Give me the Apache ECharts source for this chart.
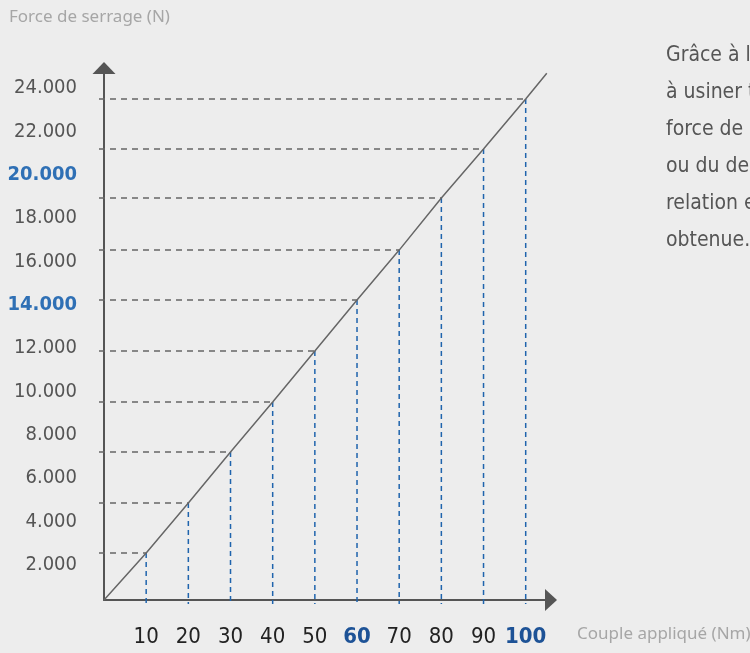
<!DOCTYPE html>
<html lang="fr">
<head>
    <meta charset="UTF-8">
    <title>Force de serrage</title>
    <script src="https://cdn.jsdelivr.net/npm/echarts@6/dist/echarts.min.js"></script>
    <style>
        html, body { margin: 0; padding: 0; background: #ededed; }
        #main { width: 750px; height: 653px; }
    </style>
</head>
<body>
    <div id="main"></div>
    <script>
        // couple (Nm) et force de serrage
        var torque = [10, 20, 30, 40, 50, 60, 70, 80, 90, 100];
        var force = [2170, 4470, 6830, 9130, 11490, 13840, 16140, 18540, 20800, 23110];
        var lineEnd = [105, 24300];
        var yMax = 24000, yStep = 2000;
        var blueY = [14000, 20000];
        var blueX = [60, 100];
        var textLines = [
            'Grâce à la forme des rondelles',
            'à usiner toutes les pièces, la',
            'force de serrage est contrôlée',
            'ou du desserrage. Une bonne',
            'relation entre couple et force',
            'obtenue.'
        ];

        var FONT = "'Liberation Sans Narrow', 'DejaVu Sans Condensed', 'Noto Sans', sans-serif";

        var diag = [[0, 0]];
        torque.forEach(function (t, i) { diag.push([t, force[i]]); });
        diag.push(lineEnd);

        var myChart = echarts.init(document.getElementById('main'));

        var option = {
            backgroundColor: '#ededed',
            animation: false,
            grid: [
                // grille des libellés de l'axe Y
                { left: 105, top: 88, width: 440, height: 520 },
                // grille du tracé
                { left: 104, top: 68, width: 447, height: 532 }
            ],
            xAxis: [
                { gridIndex: 0, type: 'value', show: false, min: 0, max: 100 },
                {
                    gridIndex: 1, type: 'value', min: 0, max: 106, interval: 10,
                    axisLine: {
                        show: true, onZero: false,
                        lineStyle: { color: '#555', width: 2 },
                        symbol: ['none', 'triangle'], symbolSize: [22, 12]
                    },
                    axisTick: { show: false },
                    splitLine: { show: false },
                    axisLabel: {
                        margin: 26,
                        fontFamily: FONT, fontSize: 22, color: '#222',
                        formatter: function (v) {
                            if (v === 0 || v % 10 !== 0) return '';
                            return blueX.indexOf(v) >= 0 ? '{b|' + v + '}' : '' + v;
                        },
                        rich: { b: { fontFamily: FONT, fontSize: 22, fontWeight: 'bold', color: '#1d5296' } }
                    }
                }
            ],
            yAxis: [
                {
                    gridIndex: 0, type: 'value', min: 0, max: yMax, interval: yStep,
                    axisLine: { show: false }, axisTick: { show: false }, splitLine: { show: false },
                    axisLabel: {
                        margin: 28,
                        fontFamily: FONT, fontSize: 20, color: '#555',
                        formatter: function (v) {
                            if (v === 0) return '';
                            var s = (v / 1000) + '.000';
                            return blueY.indexOf(v) >= 0 ? '{b|' + s + '}' : s;
                        },
                        rich: { b: { fontFamily: FONT, fontSize: 20, fontWeight: 'bold', color: '#2f70b5' } }
                    }
                },
                {
                    gridIndex: 1, type: 'value', min: 0, max: 24540,
                    axisLine: {
                        show: true, onZero: false,
                        lineStyle: { color: '#555', width: 2 },
                        symbol: ['none', 'triangle'], symbolSize: [23, 12]
                    },
                    axisTick: { show: false }, axisLabel: { show: false }, splitLine: { show: false }
                }
            ],
            graphic: [
                {
                    type: 'text', left: 9, top: 9,
                    style: { text: 'Force de serrage (N)', fill: '#a6a6a6', fontSize: 17, fontFamily: 'Noto Sans' }
                },
                {
                    type: 'text', left: 577, top: 626,
                    style: { text: 'Couple appliqué (Nm)', fill: '#a6a6a6', fontSize: 17, fontFamily: 'Noto Sans' }
                },
                {
                    type: 'text', left: 666, top: 37,
                    style: {
                        text: textLines.join('\n'), fill: '#555',
                        fontSize: 21, fontFamily: FONT, lineHeight: 37
                    }
                }
            ],
            series: [
                {
                    type: 'custom',
                    xAxisIndex: 1, yAxisIndex: 1,
                    z: 1,
                    data: torque.map(function (t, i) { return [t, force[i]]; }),
                    renderItem: function (params, api) {
                        var p = api.coord([api.value(0), api.value(1)]);
                        var o = api.coord([0, 0]);
                        return {
                            type: 'group',
                            children: [
                                {
                                    type: 'line',
                                    shape: { x1: o[0] - 5, y1: p[1], x2: p[0], y2: p[1] },
                                    style: { stroke: '#666', lineWidth: 1.5, lineDash: [6, 5] }
                                },
                                {
                                    type: 'line',
                                    shape: { x1: p[0], y1: p[1], x2: p[0], y2: o[1] + 4 },
                                    style: { stroke: '#1f64ad', lineWidth: 1.5, lineDash: [5, 4] }
                                }
                            ]
                        };
                    }
                },
                {
                    type: 'line',
                    xAxisIndex: 1, yAxisIndex: 1,
                    z: 3,
                    data: diag,
                    symbol: 'none',
                    lineStyle: { color: '#666', width: 1.5 }
                }
            ]
        };

        myChart.setOption(option);
    </script>
</body>
</html>
